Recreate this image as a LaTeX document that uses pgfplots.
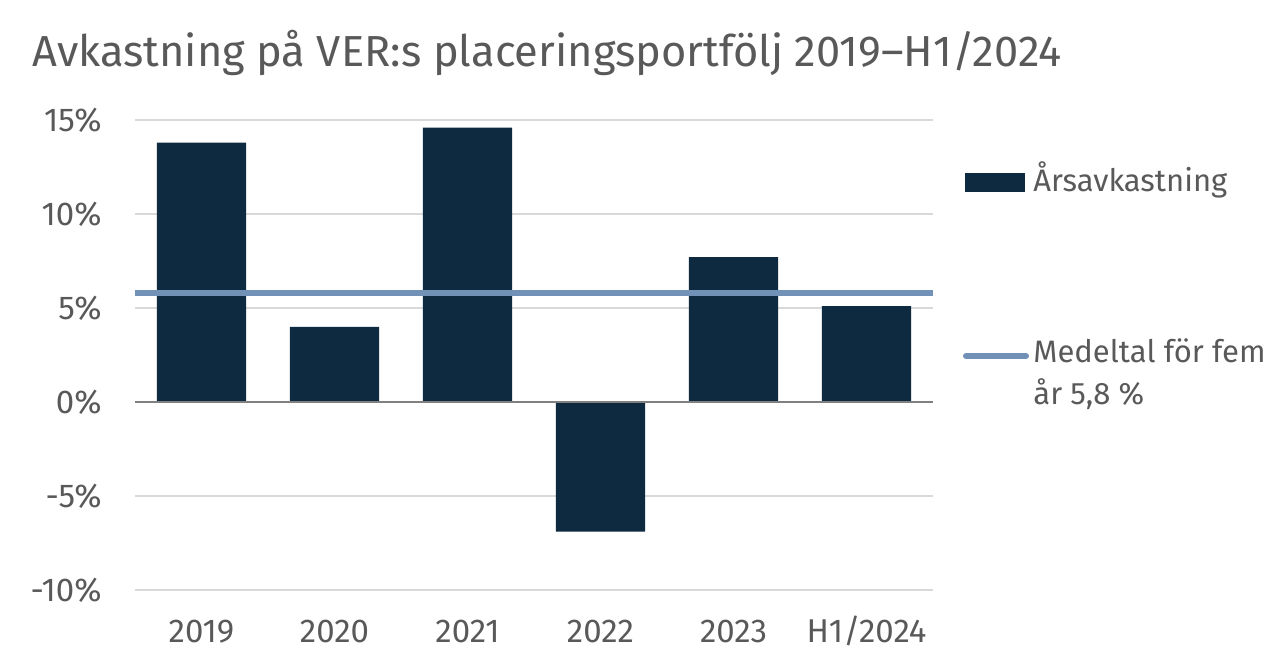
\documentclass[border=0pt]{standalone}
\usepackage{fontspec}
\setmainfont{Fira Sans}[Numbers=Lining]
\usepackage{pgfplots}
\pgfplotsset{compat=1.18}
\definecolor{barc}{HTML}{0E2A40}
\definecolor{linec}{HTML}{7191B7}
\definecolor{txt}{HTML}{595959}
\definecolor{gridc}{HTML}{D9D9D9}
\definecolor{zeroc}{HTML}{808080}
\begin{document}
\begin{tikzpicture}[x=1pt,y=1pt]
\path (0,0) rectangle (644,336);
\node[anchor=base west, text=txt, font=\fontsize{21.7}{26}\selectfont, inner sep=0] at (16,302.5) {Avkastning på VER:s placeringsportfölj 2019–H1/2024};
\begin{axis}[
  at={(67.5pt,41pt)}, anchor=south west,
  scale only axis, width=399pt, height=235pt,
  xmin=-0.5, xmax=5.5, ymin=-10, ymax=15,
  axis line style={draw=none},
  major tick length=0pt,
  xtick={0,1,2,3,4,5},
  xticklabels={2019,2020,2021,2022,2023,H1/2024},
  ytick={-10,-5,0,5,10,15},
  yticklabels={-10\%,-5\%,0\%,5\%,10\%,15\%},
  ymajorgrids, grid style={gridc, line width=1pt},
  tick label style={text=txt, font=\fontsize{16.5}{19}\selectfont, inner sep=0pt},
  xticklabel style={anchor=base, yshift=-26.5pt},
  yticklabel style={anchor=east, xshift=-16.5pt},
]
\addplot[ybar, bar width=0.67, fill=barc, draw=none] coordinates {(0,13.8) (1,4.0) (2,14.6) (3,-6.9) (4,7.7) (5,5.1)};
\draw[zeroc, line width=1pt] (axis cs:-0.5,0) -- (axis cs:5.5,0);
\addplot[linec, line width=3pt] coordinates {(-0.5,5.8) (5.5,5.8)};
\end{axis}
% legend
\fill[barc] (482.5,240) rectangle (512.5,249.5);
\node[anchor=base west, text=txt, font=\fontsize{15.5}{18}\selectfont, inner sep=0] at (516.5,240) {Årsavkastning};
\draw[linec, line width=3pt, line cap=round] (483,158) -- (513,158);
\node[anchor=base west, text=txt, font=\fontsize{15.5}{18}\selectfont, inner sep=0] at (516.5,154.5) {Medeltal för fem};
\node[anchor=base west, text=txt, font=\fontsize{15.5}{18}\selectfont, inner sep=0] at (516.5,133.5) {år 5,8 \%};
\end{tikzpicture}
\end{document}
